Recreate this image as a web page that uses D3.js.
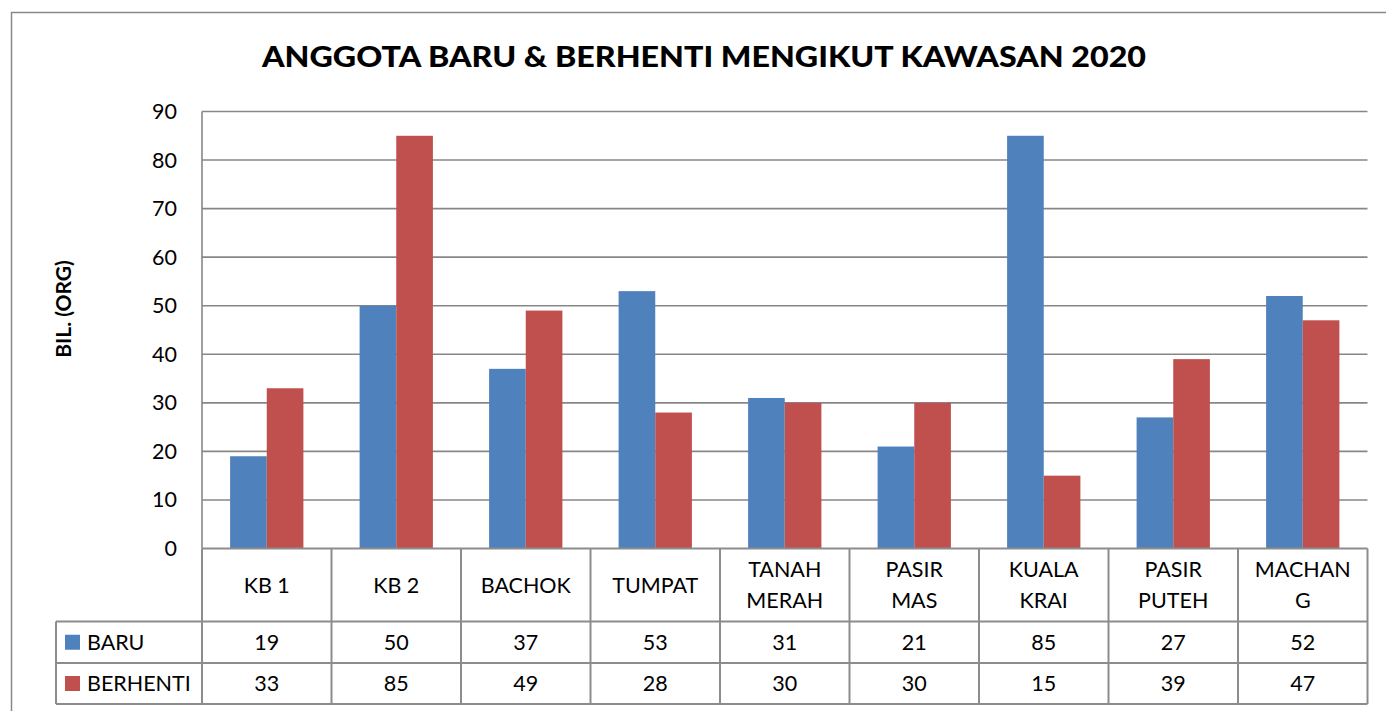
<!DOCTYPE html>
<html><head><meta charset="utf-8">
<script src="https://cdn.jsdelivr.net/npm/d3@7/dist/d3.min.js"></script>
<style>
html,body{margin:0;padding:0;background:#fff;}
svg{display:block;font-family:Lato,"Open Sans",sans-serif;}
</style></head>
<body>
<svg id="chart" width="1386" height="711"></svg>
<script>
const categories = ["KB 1","KB 2","BACHOK","TUMPAT","TANAH MERAH","PASIR MAS","KUALA KRAI","PASIR PUTEH","MACHANG"];
const categoryLines = [["KB 1"],["KB 2"],["BACHOK"],["TUMPAT"],["TANAH","MERAH"],["PASIR","MAS"],["KUALA","KRAI"],["PASIR","PUTEH"],["MACHAN","G"]];
const seriesNames = ["BARU","BERHENTI"];
const baru = [19,50,37,53,31,21,85,27,52];
const berhenti = [33,85,49,28,30,30,15,39,47];
const yTicks = [0,10,20,30,40,50,60,70,80,90];
const title = "ANGGOTA BARU & BERHENTI MENGIKUT KAWASAN 2020";
const yTitle = "BIL. (ORG)";
const colors = ["#4F81BD","#C0504D"];

const series = [baru, berhenti];
const svg = d3.select("#chart");
const gridColor = "#878787";
const fs = 21.5;

// outer border
svg.append("rect").attr("x",11.5).attr("y",12.5).attr("width",1400).attr("height",720)
  .attr("fill","none").attr("stroke","#888").attr("stroke-width",1.5);

const plotL = 202, plotR = 1367.5, plotT = 111.5, plotB = 548.5;
const x = d3.scaleBand().domain(categories).range([plotL, plotR]).paddingInner(0).paddingOuter(0);
const bw = x.bandwidth();
const groupPad = 28.1;
const x1 = d3.scaleBand().domain(seriesNames).range([groupPad, bw - groupPad]).padding(0);
const y = d3.scaleLinear().domain([0,90]).range([plotB, plotT]);

// gridlines
svg.append("g").selectAll("line").data(yTicks.filter(d=>d>0)).join("line")
  .attr("x1",plotL).attr("x2",plotR)
  .attr("y1",d=>y(d)).attr("y2",d=>y(d))
  .attr("stroke",gridColor).attr("stroke-width",1.6);

// bars
const g = svg.append("g");
seriesNames.forEach((s,si)=>{
  g.append("g").selectAll("rect").data(series[si]).join("rect")
    .attr("x",(d,i)=>x(categories[i]) + x1(s))
    .attr("width",x1.bandwidth())
    .attr("y",d=>y(d))
    .attr("height",d=>plotB - y(d))
    .attr("fill",colors[si]);
});

// left axis line
svg.append("line").attr("x1",plotL).attr("x2",plotL).attr("y1",plotT).attr("y2",plotB)
  .attr("stroke",gridColor).attr("stroke-width",1.6);

// y tick labels
svg.append("g").selectAll("text").data(yTicks).join("text")
  .attr("x",177).attr("y",d=>y(d)).attr("dy","0.35em")
  .attr("text-anchor","end").attr("font-size",fs).attr("fill","#000")
  .text(d=>d);

// y title
svg.append("text").attr("transform","translate(71,309) rotate(-90)")
  .attr("text-anchor","middle").attr("font-size",21).attr("font-weight","bold")
  .text(yTitle);

// title
const t = svg.append("text").attr("x",704).attr("y",67).attr("text-anchor","middle")
  .attr("font-size",29).attr("font-weight","900").text(title);
t.attr("textLength",884).attr("lengthAdjust","spacingAndGlyphs");

// data table
const tblColor = "#8c8c8c";
const rowCat = [548.5, 621.5], rowBaru = [621.5, 663], rowBer = [663, 704];
const legL = 56;
const tg = svg.append("g");
tg.append("line").attr("x1",plotL).attr("x2",plotR).attr("y1",rowCat[0]).attr("y2",rowCat[0]).attr("stroke",tblColor).attr("stroke-width",2);
[rowBaru[0], rowBer[0], rowBer[1]].forEach(yy=>{
  tg.append("line").attr("x1",legL).attr("x2",plotR).attr("y1",yy).attr("y2",yy).attr("stroke",tblColor).attr("stroke-width",2);
});
tg.append("line").attr("x1",legL).attr("x2",legL).attr("y1",rowBaru[0]).attr("y2",rowBer[1]).attr("stroke",tblColor).attr("stroke-width",2);
tg.selectAll("line.v").data(categories.concat(["__end"])).join("line").attr("class","v")
  .attr("x1",(d,i)=>plotL + i*bw).attr("x2",(d,i)=>plotL + i*bw)
  .attr("y1",rowCat[0]).attr("y2",rowBer[1]).attr("stroke",tblColor).attr("stroke-width",2);

// category labels
const cg = tg.append("g").selectAll("text").data(categoryLines).join("text")
  .attr("text-anchor","middle").attr("font-size",fs)
  .attr("x",(d,i)=>x(categories[i]) + bw/2);
cg.each(function(lines){
  const sel = d3.select(this);
  const cy = (rowCat[0]+rowCat[1])/2;
  const lh = 31.5;
  const start = cy - (lines.length-1)*lh/2;
  lines.forEach((ln,k)=>{
    sel.append("tspan").attr("x",sel.attr("x")).attr("y",start + k*lh).attr("dy","0.36em").text(ln);
  });
});

// value rows
const rows = [rowBaru, rowBer];
series.forEach((vals,si)=>{
  const cy = (rows[si][0]+rows[si][1])/2;
  tg.append("g").selectAll("text").data(vals).join("text")
    .attr("x",(d,i)=>x(categories[i]) + bw/2).attr("y",cy).attr("dy","0.36em")
    .attr("text-anchor","middle").attr("font-size",fs).text(d=>d);
  tg.append("rect").attr("x",65).attr("y",cy-7.5).attr("width",15).attr("height",15).attr("fill",colors[si]);
  tg.append("text").attr("x",87).attr("y",cy).attr("dy","0.36em").attr("font-size",fs).text(seriesNames[si]);
});
</script>
</body></html>
